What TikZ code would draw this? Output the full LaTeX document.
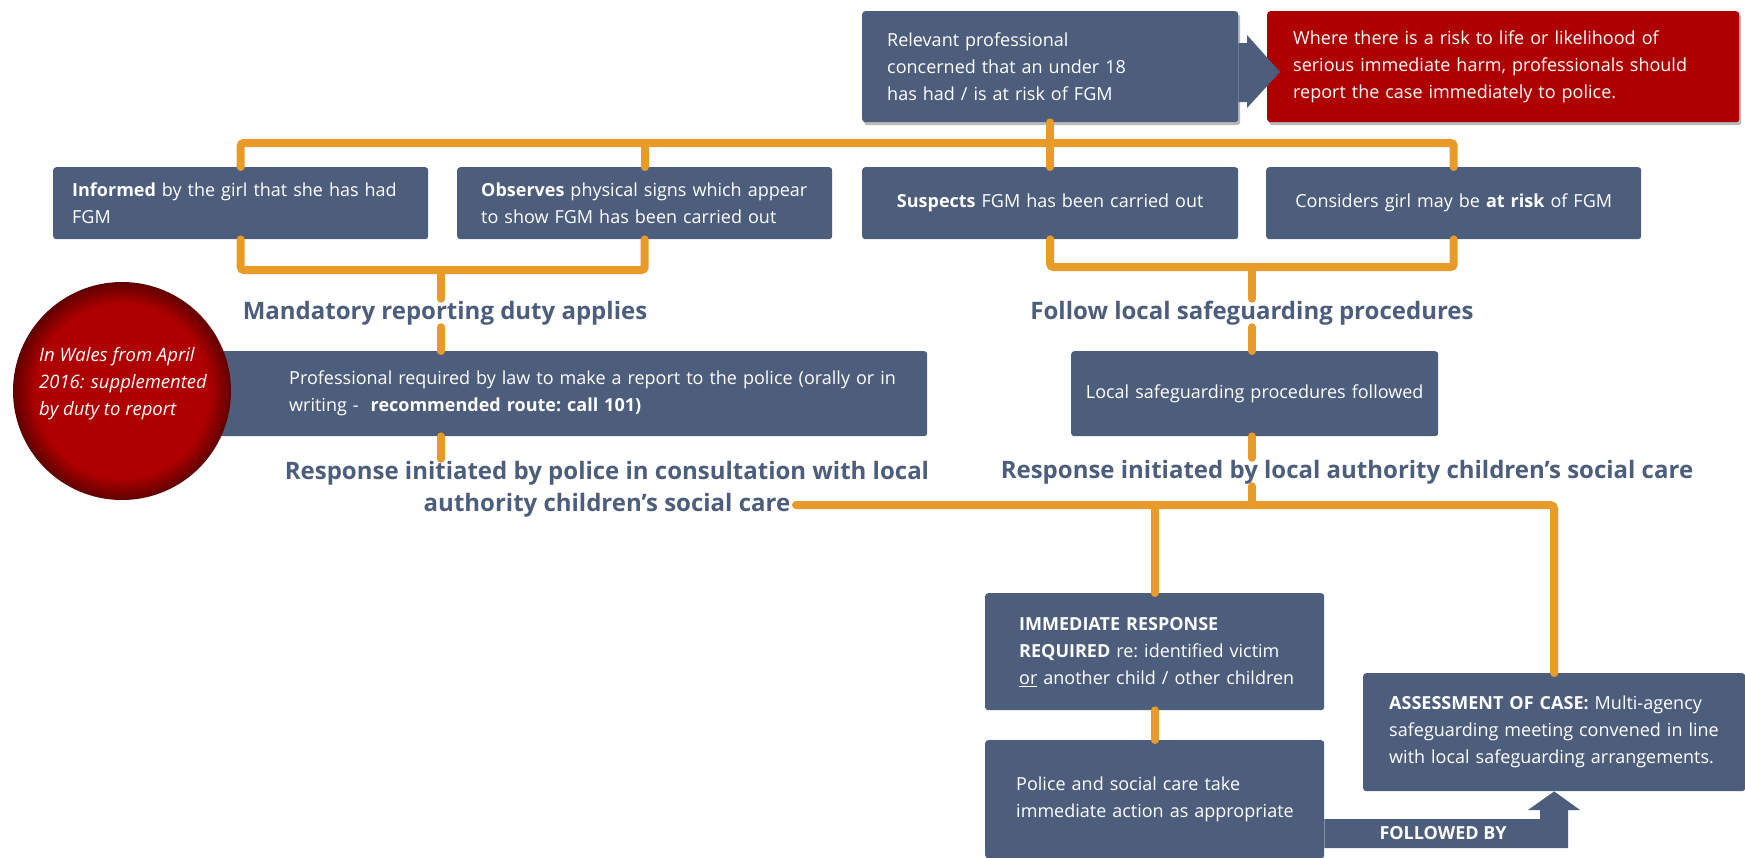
\documentclass[tikz,border=0pt]{standalone}
\usepackage{fontspec}
\setmainfont{Open Sans}
\usetikzlibrary{shadows,calc}
\definecolor{boxblue}{HTML}{4D5E7C}
\definecolor{lineorange}{HTML}{E89B29}
\definecolor{alertred}{HTML}{AE0000}
\newcommand\fgmbody{\fontsize{18}{27}\selectfont\frenchspacing}
\newcommand\fgmlabel{\fontsize{24}{32}\selectfont\bfseries}
\newcommand\apos{{\char39}}
\newcommand\fgmln[1]{\mbox{#1}}
\pgfdeclareradialshading{fgmball}{\pgfpoint{0bp}{0bp}}{color(0bp)=(alertred); color(20bp)=(alertred); color(25bp)=(alertred!55!black); color(50bp)=(alertred!55!black)}
\tikzset{
  box/.style={fill=boxblue, rounded corners=3pt, text=white, font=\fgmbody, inner ysep=0pt, anchor=north west},
  redbox/.style={box, fill=alertred},
  lbl/.style={text=boxblue, font=\fgmlabel, inner sep=2pt, align=center},
  conn/.style={draw=lineorange, line width=8pt, line cap=round, rounded corners=3pt},
  shad/.style={drop shadow={opacity=0.55, shadow xshift=2pt, shadow yshift=-3pt}},
}
\begin{document}
\begin{tikzpicture}[x=1pt,y=-1pt]
\useasboundingbox[fill=white] (0,0) rectangle (1745,857);

% top row
\node[box, shad, minimum width=376pt, minimum height=111pt, text width=326pt, inner xsep=25pt, align=left] (top) at (862,11)
  {Relevant professional\\concerned that an under 18\\has had / is at risk of FGM};
\node[redbox, shad, minimum width=472pt, minimum height=111pt, text width=420pt, inner xsep=26pt, align=left] (risk) at (1267,11)
  {\fgmln{Where there is a risk to life or likelihood of}\\\fgmln{serious immediate harm, professionals should}\\\fgmln{report the case immediately to police.}};
\fill[boxblue] (top.east |- 0,43) -- (1247,43) -- (1247,35) -- (1280,72) -- (1247,108) -- (1247,102) -- (top.east |- 0,102) -- cycle;

% second row
\node[box, minimum width=375pt, minimum height=72pt, text width=337pt, inner xsep=19pt, align=left] (A) at (53,167)
  {\fgmln{\textbf{Informed} by the girl that she has had}\\FGM};
\node[box, minimum width=375pt, minimum height=72pt, text width=327pt, inner xsep=24pt, align=left] (B) at (457,167)
  {\fgmln{\textbf{Observes} physical signs which appear}\\\fgmln{to show FGM has been carried out}};
\node[box, minimum width=376pt, minimum height=72pt, text width=356pt, inner xsep=10pt, align=center] (C) at (862,167)
  {\textbf{Suspects} FGM has been carried out};
\node[box, minimum width=375pt, minimum height=72pt, text width=355pt, inner xsep=10pt, align=center] (D) at (1266,167)
  {Considers girl may be \textbf{at risk} of FGM};

\coordinate (tbus) at (1050,143);
\draw[conn] (A.north) -- (A.north |- tbus) -- (D.north |- tbus) -- (D.north);
\draw[conn] (B.north) -- (B.north |- tbus);
\draw[conn] (C.north) -- (C.north |- tbus);
\draw[conn] (top.south) -- (top.south |- tbus);

% left branch
\coordinate (mb) at (441,270);
\node[lbl] (mand) at (445,313) {Mandatory reporting duty applies};
\draw[conn] (A.south) -- (A.south |- mb) -- (B.south |- mb) -- (B.south);
\draw[conn] (mb) -- (mb |- mand.north);

\node[box, minimum width=710pt, minimum height=85pt, text width=566pt, inner xsep=72pt, align=left] (law) at (217,351)
  {\fgmln{Professional required by law to make a report to the police (orally or in}\\\fgmln{writing -\ \ \textbf{recommended route: call 101)}}};
\draw[conn] (mb |- mand.south) -- (mb |- law.north);

\node[circle, minimum size=218pt, shading=fgmball] (wal) at (122,391) {};
\node[text=white, font=\fontsize{18.5}{27}\selectfont\itshape, align=left, inner sep=0pt] (walt) at (123,384)
  {In Wales from April\\2016: supplemented\\by duty to report};

\node[lbl] (pol) at (607,489) {Response initiated by police in consultation with local\\authority children\apos s social care};
\draw[conn] (mb |- law.south) -- (mb |- pol.north);

% right branch
\coordinate (fb) at (1252,267);
\node[lbl] (follow) at (1252,313) {Follow local safeguarding procedures};
\draw[conn] (C.south) -- (C.south |- fb) -- (D.south |- fb) -- (D.south);
\draw[conn] (fb) -- (fb |- follow.north);

\node[box, minimum width=367pt, minimum height=85pt, text width=347pt, inner xsep=10pt, align=center] (lsp) at (1071,351)
  {Local safeguarding procedures followed};
\draw[conn] (fb |- follow.south) -- (fb |- lsp.north);

\node[lbl] (la) at (1347,472) {Response initiated by local authority children\apos s social care};
\draw[conn] (fb |- lsp.south) -- (fb |- la.north);

% bottom bus
\coordinate (pend) at (796,505);
\node[box, minimum width=382pt, minimum height=118pt, text width=330pt, inner xsep=26pt, align=left] (asm) at (1363,673)
  {\fgmln{\textbf{ASSESSMENT OF CASE:} Multi-agency}\\\fgmln{safeguarding meeting convened in line}\\\fgmln{with local safeguarding arrangements.}};
\node[box, minimum width=339pt, minimum height=117pt, text width=271pt, inner xsep=34pt, align=left] (imm) at (985,593)
  {\textbf{IMMEDIATE RESPONSE}\\\fgmln{\textbf{REQUIRED} re: identified victim}\\\fgmln{\underline{or} another child / other children}};
\node[box, minimum width=339pt, minimum height=118pt, text width=277pt, inner xsep=31pt, align=left] (act) at (985,740)
  {\fgmln{Police and social care take}\\\fgmln{immediate action as appropriate}};

\draw[conn, rounded corners=4pt] (pend) -| (asm.north);
\draw[conn] (fb |- la.south) -- (fb |- pend);
\draw[conn] (imm.north) -- (imm.north |- pend);
\draw[conn] (imm.south) -- (act.north);

\fill[boxblue] (act.east |- 0,819) -- (1540,819) -- (1540,810) -- (1528,810) -- (asm.south) -- (1580,810) -- (1568,810) -- (1568,848) -- (act.east |- 0,848) -- cycle;
\node[text=white, font=\fontsize{18}{22}\selectfont\bfseries, inner sep=0pt] (fby) at (1443,833) {FOLLOWED BY};
\end{tikzpicture}
\end{document}
